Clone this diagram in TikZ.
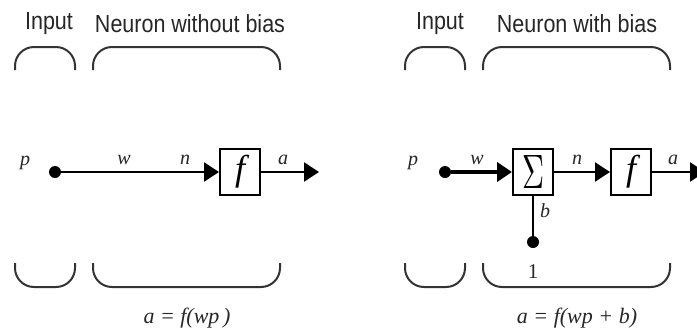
\documentclass[tikz,border=0pt]{standalone}
\usepackage{fontspec}
\setmainfont{Liberation Serif}
\setsansfont{Liberation Sans}
\usetikzlibrary{arrows.meta}
\newcommand{\ttl}[1]{\scalebox{1}[1.15]{#1}}
\begin{document}
\begin{tikzpicture}[x=1pt,y=-1pt,
  title/.style={font=\sffamily\fontsize{21.5}{22}\selectfont, text=black!85},
  lab/.style={font=\itshape\fontsize{20}{21}\selectfont, text=black!85},
  eq/.style={font=\itshape\fontsize{22}{23}\selectfont, text=black!85},
  fbox/.style={draw, line width=2pt, minimum width=40pt, minimum height=46pt, inner sep=0pt},
  dotn/.style={circle, fill=black, minimum size=12pt, inner sep=0pt},
  brk/.style={line width=2pt, rounded corners=19pt, black!80},
  wire/.style={line width=2.4pt},
  tip/.style={-{Triangle[length=15pt,width=19pt]}},
  ]
\useasboundingbox (0,0) rectangle (697,333);
% ---------- left panel ----------
\node[title] (inL) at (49,24) {\ttl{Input}};
\node[title] (nwb) at (190,24) {\ttl{Neuron without bias}};
\draw[brk] (15,70) -- (15,47) -- (75,47) -- (75,70);
\draw[brk] (93,70) -- (93,47) -- (280,47) -- (280,70);
\draw[brk] (15,263) -- (15,287) -- (75,287) -- (75,263);
\draw[brk] (93,263) -- (93,287) -- (280,287) -- (280,263);
\node[dotn] (pL) at (55,172) {};
\node[fbox] (fL) at (240,172) {\fontsize{36}{38}\selectfont\itshape f};
\coordinate (oL) at (319,172);
\draw[wire,tip] (pL) -- (fL);
\draw[wire,tip] (fL) -- (oL);
\node[lab] (lpL) at (25,163) {p};
\node[lab] (lwL) at (124,160) {w};
\node[lab] (lnL) at (185,160) {n};
\node[lab] (laL) at (283,160) {a};
\node[eq] (eqL) at (187,318) {a = f(wp\,)};
% ---------- right panel ----------
\node[title] (inR) at (440,24) {\ttl{Input}};
\node[title] (nb) at (577,24) {\ttl{Neuron with bias}};
\draw[brk] (405,70) -- (405,47) -- (465,47) -- (465,70);
\draw[brk] (483,70) -- (483,47) -- (670,47) -- (670,70);
\draw[brk] (405,263) -- (405,287) -- (465,287) -- (465,263);
\draw[brk] (483,263) -- (483,287) -- (670,287) -- (670,263);
\node[dotn] (pR) at (445,172) {};
\node[fbox] (sR) at (533,172) {\resizebox{22pt}{33pt}{$\Sigma$}};
\node[fbox] (fR) at (631,172) {\fontsize{36}{38}\selectfont\itshape f};
\node[dotn] (bR) at (533,242) {};
\coordinate (oR) at (705,172);
\draw[line width=4pt,tip] (pR) -- (sR);
\draw[wire,tip] (sR) -- (fR);
\draw[wire,tip] (fR) -- (oR);
\draw[wire] (bR) -- (sR);
\node[lab] (lpR) at (413,163) {p};
\node[lab] (lwR) at (477,160) {w};
\node[lab] (lnR) at (577,160) {n};
\node[lab] (laR) at (673,160) {a};
\node[lab] (lbR) at (545,211) {b};
\node[font=\fontsize{21}{22}\selectfont, text=black!85] (one) at (533,272) {1};
\node[eq] (eqR) at (577,318) {a = f(wp + b)};
\end{tikzpicture}
\end{document}
